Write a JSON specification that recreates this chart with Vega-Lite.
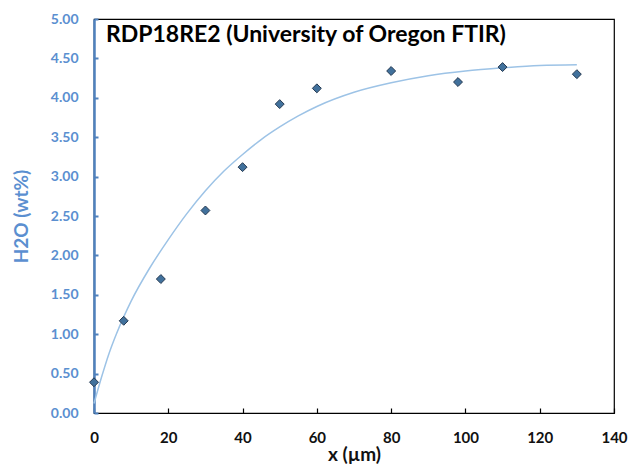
{
  "$schema": "https://vega.github.io/schema/vega-lite/v6.json",
  "autosize": "none",
  "width": 520,
  "height": 394,
  "padding": {"left": 94, "top": 19, "right": 29, "bottom": 59},
  "background": "white",
  "title": {
    "text": "RDP18RE2 (University of Oregon FTIR)",
    "anchor": "start",
    "frame": "group",
    "orient": "top",
    "offset": 0,
    "dx": 12,
    "dy": 35,
    "font": "Lato",
    "fontWeight": "bold",
    "fontSize": 23,
    "color": "#000000"
  },
  "config": {
    "view": {"stroke": "#000000", "strokeWidth": 1.2},
    "axis": {"grid": false, "domain": true}
  },
  "datasets": {
    "fit": [
      {"x": 0, "y": 0.12}, {"x": 2, "y": 0.45}, {"x": 4, "y": 0.75}, {"x": 6, "y": 1.0},
      {"x": 8, "y": 1.22}, {"x": 10, "y": 1.42}, {"x": 15, "y": 1.84}, {"x": 20, "y": 2.20},
      {"x": 25, "y": 2.53}, {"x": 30, "y": 2.82}, {"x": 35, "y": 3.07}, {"x": 40, "y": 3.28},
      {"x": 45, "y": 3.47}, {"x": 50, "y": 3.63}, {"x": 55, "y": 3.77}, {"x": 60, "y": 3.89},
      {"x": 70, "y": 4.07}, {"x": 80, "y": 4.19}, {"x": 90, "y": 4.28}, {"x": 100, "y": 4.34},
      {"x": 110, "y": 4.38}, {"x": 120, "y": 4.41}, {"x": 130, "y": 4.42}
    ],
    "obs": [
      {"x": 0, "y": 0.39}, {"x": 8, "y": 1.17}, {"x": 18, "y": 1.70}, {"x": 30, "y": 2.57},
      {"x": 40, "y": 3.12}, {"x": 50, "y": 3.92}, {"x": 60, "y": 4.12}, {"x": 80, "y": 4.34},
      {"x": 98, "y": 4.20}, {"x": 110, "y": 4.39}, {"x": 130, "y": 4.30}
    ]
  },
  "encoding": {
    "x": {
      "field": "x", "type": "quantitative",
      "scale": {"domain": [0, 140], "nice": false, "zero": false},
      "axis": {
        "title": "x (µm)", "values": [0, 20, 40, 60, 80, 100, 120, 140],
        "domainColor": "#000000", "domainWidth": 1.2,
        "tickColor": "#000000", "tickSize": -5, "tickWidth": 1.2,
        "labelFont": "Lato", "labelFontWeight": "bold", "labelFontSize": 15, "labelColor": "#111111",
        "labelPadding": 22, "labelFlush": false,
        "titleFont": "Lato", "titleFontWeight": "bold", "titleFontSize": 19, "titleColor": "#111111",
        "titlePadding": 0
      }
    },
    "y": {
      "field": "y", "type": "quantitative",
      "scale": {"domain": [0, 5], "nice": false},
      "axis": {
        "title": "H2O (wt%)", "values": [0, 0.5, 1, 1.5, 2, 2.5, 3, 3.5, 4, 4.5, 5], "format": ".2f",
        "domainColor": "#4F81BD", "domainWidth": 2.5,
        "tickColor": "#4F81BD", "tickSize": -4, "tickWidth": 2,
        "labelFont": "Lato", "labelFontWeight": "bold", "labelFontSize": 14, "labelColor": "#5B8FD0",
        "labelPadding": 20, "labelFlush": false,
        "titleFont": "Lato", "titleFontWeight": "bold", "titleFontSize": 19, "titleColor": "#5B8FD0",
        "titlePadding": 19
      }
    }
  },
  "layer": [
    {
      "data": {"name": "fit"},
      "mark": {"type": "line", "color": "#9DC3E6", "strokeWidth": 1.5, "interpolate": "monotone"}
    },
    {
      "data": {"name": "obs"},
      "mark": {"type": "point", "shape": "diamond", "filled": true, "fill": "#41719C", "stroke": "#263A52", "strokeWidth": 1, "size": 80, "opacity": 1}
    }
  ]
}
